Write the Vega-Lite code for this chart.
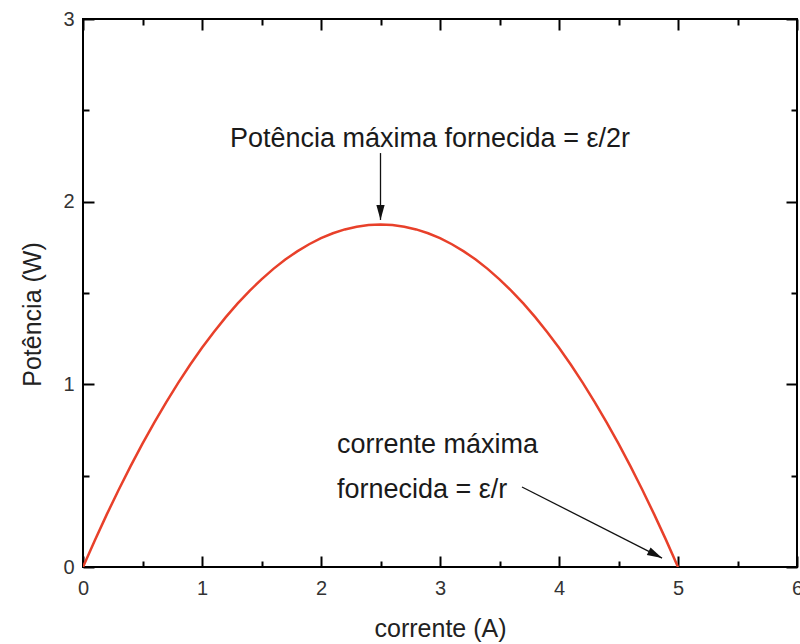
{
  "$schema": "https://vega.github.io/schema/vega-lite/v6.json",
  "width": 714,
  "height": 548,
  "autosize": {"type": "none"},
  "padding": {"left": 83, "top": 19, "right": 3, "bottom": 77},
  "background": "white",
  "config": {
    "view": {"stroke": "#000", "strokeWidth": 2},
    "font": "Liberation Sans",
    "axis": {
      "domain": false,
      "grid": false,
      "tickColor": "#000",
      "tickWidth": 2,
      "labelFont": "Liberation Sans",
      "labelFontSize": 20,
      "labelColor": "#333",
      "titleFont": "Liberation Sans",
      "titleFontSize": 25,
      "titleFontWeight": "normal",
      "titleColor": "#222"
    }
  },
  "datasets": {
    "curve": [
      {"I": 0.0, "P": 0.0}, {"I": 0.1, "P": 0.147}, {"I": 0.2, "P": 0.288}, {"I": 0.3, "P": 0.423},
      {"I": 0.4, "P": 0.552}, {"I": 0.5, "P": 0.675}, {"I": 0.6, "P": 0.792}, {"I": 0.7, "P": 0.903},
      {"I": 0.8, "P": 1.008}, {"I": 0.9, "P": 1.107}, {"I": 1.0, "P": 1.2}, {"I": 1.1, "P": 1.287},
      {"I": 1.2, "P": 1.368}, {"I": 1.3, "P": 1.443}, {"I": 1.4, "P": 1.512}, {"I": 1.5, "P": 1.575},
      {"I": 1.6, "P": 1.632}, {"I": 1.7, "P": 1.683}, {"I": 1.8, "P": 1.728}, {"I": 1.9, "P": 1.767},
      {"I": 2.0, "P": 1.8}, {"I": 2.1, "P": 1.827}, {"I": 2.2, "P": 1.848}, {"I": 2.3, "P": 1.863},
      {"I": 2.4, "P": 1.872}, {"I": 2.5, "P": 1.875}, {"I": 2.6, "P": 1.872}, {"I": 2.7, "P": 1.863},
      {"I": 2.8, "P": 1.848}, {"I": 2.9, "P": 1.827}, {"I": 3.0, "P": 1.8}, {"I": 3.1, "P": 1.767},
      {"I": 3.2, "P": 1.728}, {"I": 3.3, "P": 1.683}, {"I": 3.4, "P": 1.632}, {"I": 3.5, "P": 1.575},
      {"I": 3.6, "P": 1.512}, {"I": 3.7, "P": 1.443}, {"I": 3.8, "P": 1.368}, {"I": 3.9, "P": 1.287},
      {"I": 4.0, "P": 1.2}, {"I": 4.1, "P": 1.107}, {"I": 4.2, "P": 1.008}, {"I": 4.3, "P": 0.903},
      {"I": 4.4, "P": 0.792}, {"I": 4.5, "P": 0.675}, {"I": 4.6, "P": 0.552}, {"I": 4.7, "P": 0.423},
      {"I": 4.8, "P": 0.288}, {"I": 4.9, "P": 0.147}, {"I": 5.0, "P": 0.0}
    ],
    "arrows": [
      {"x": 2.5, "y": 2.266, "x2": 2.5, "y2": 1.9, "angle": 180},
      {"x": 3.689, "y": 0.438, "x2": 4.866, "y2": 0.049, "angle": 117}
    ],
    "notes": [
      {"x": 1.235, "y": 2.3, "text": "Potência máxima fornecida = ε/2r"},
      {"x": 2.134, "y": 0.624, "text": "corrente máxima"},
      {"x": 2.134, "y": 0.378, "text": "fornecida = ε/r"}
    ]
  },
  "resolve": {"axis": {"x": "independent", "y": "independent"}},
  "layer": [
    {
      "data": {"name": "curve"},
      "mark": {"type": "line", "color": "#e8402a", "strokeWidth": 2.5, "clip": true},
      "encoding": {
        "x": {
          "field": "I", "type": "quantitative",
          "scale": {"domain": [0, 6], "nice": false},
          "axis": {
            "orient": "bottom",
            "title": "corrente (A)",
            "titleBaseline": "alphabetic",
            "titleY": 69,
            "values": [0, 0.5, 1, 1.5, 2, 2.5, 3, 3.5, 4, 4.5, 5, 5.5, 6],
            "labelExpr": "datum.value % 1 === 0 ? format(datum.value, 'd') : ''",
            "tickSize": {"condition": {"test": "datum.value % 1 === 0", "value": -11}, "value": -6},
            "labelPadding": 22,
            "labelFlush": false,
            "labelOverlap": false
          }
        },
        "y": {
          "field": "P", "type": "quantitative",
          "scale": {"domain": [0, 3], "nice": false},
          "axis": {
            "orient": "left",
            "title": "Potência (W)",
            "titleAngle": -90,
            "titleAlign": "center",
            "titleBaseline": "alphabetic",
            "titleX": -43,
            "titleY": 295,
            "values": [0, 0.5, 1, 1.5, 2, 2.5, 3],
            "labelExpr": "datum.value % 1 === 0 ? format(datum.value, 'd') : ''",
            "tickSize": {"condition": {"test": "datum.value % 1 === 0", "value": -11}, "value": -6},
            "labelPadding": 20,
            "labelFlush": false,
            "labelOverlap": false
          }
        }
      }
    },
    {
      "data": {"name": "arrows"},
      "mark": {"type": "rule", "color": "#111", "strokeWidth": 1.3},
      "encoding": {
        "x": {"field": "x", "type": "quantitative", "axis": null},
        "y": {"field": "y", "type": "quantitative", "axis": null},
        "x2": {"field": "x2"},
        "y2": {"field": "y2"}
      }
    },
    {
      "data": {"name": "arrows"},
      "mark": {
        "type": "point",
        "shape": "M0,0L0.55,2L-0.55,2Z",
        "filled": true,
        "color": "#111",
        "opacity": 1,
        "size": 225
      },
      "encoding": {
        "x": {"field": "x2", "type": "quantitative", "axis": null},
        "y": {"field": "y2", "type": "quantitative", "axis": null},
        "angle": {"field": "angle", "type": "quantitative", "scale": null}
      }
    },
    {
      "data": {"name": "notes"},
      "mark": {
        "type": "text",
        "align": "left",
        "baseline": "alphabetic",
        "font": "Liberation Sans",
        "fontSize": 27,
        "color": "#1a1a1a"
      },
      "encoding": {
        "x": {
          "field": "x", "type": "quantitative",
          "axis": {
            "orient": "top",
            "title": null,
            "values": [0, 0.5, 1, 1.5, 2, 2.5, 3, 3.5, 4, 4.5, 5, 5.5, 6],
            "labels": false,
            "tickSize": {"condition": {"test": "datum.value % 1 === 0", "value": -11}, "value": -6}
          }
        },
        "y": {
          "field": "y", "type": "quantitative",
          "axis": {
            "orient": "right",
            "title": null,
            "values": [0, 0.5, 1, 1.5, 2, 2.5, 3],
            "labels": false,
            "tickSize": {"condition": {"test": "datum.value % 1 === 0", "value": -11}, "value": -6}
          }
        },
        "text": {"field": "text"}
      }
    }
  ]
}
